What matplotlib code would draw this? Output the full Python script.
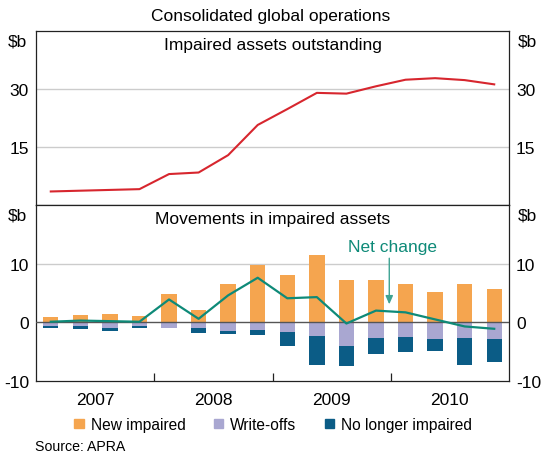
import numpy as np
import matplotlib
matplotlib.use("Agg")
import matplotlib.pyplot as plt
from matplotlib.patches import Patch

plt.rcParams["font.family"] = ["Liberation Sans", "DejaVu Sans"]
plt.rcParams["axes.unicode_minus"] = False
FS = 12.5

# quarterly, 2007 Q1 .. 2010 Q4
years = ["2007", "2008", "2009", "2010"]
outstanding = [3.5, 3.7, 3.9, 4.1, 8.0, 8.4, 12.9, 20.7, 24.8, 29.0, 28.8, 30.7, 32.4, 32.8, 32.3, 31.2]
new_impaired = [0.9, 1.3, 1.5, 1.1, 4.9, 2.1, 6.5, 9.8, 8.0, 11.5, 7.2, 7.3, 6.6, 5.1, 6.5, 5.6]
write_offs = [-0.7, -0.7, -1.0, -0.7, -0.9, -1.0, -1.5, -1.3, -1.7, -2.3, -4.1, -2.7, -2.5, -2.9, -2.7, -2.9]
no_longer = [-0.2, -0.4, -0.5, -0.2, 0.0, -0.8, -0.5, -0.8, -2.4, -5.0, -3.4, -2.7, -2.6, -2.0, -4.6, -3.9]
net_change = [0.1, 0.3, 0.2, 0.1, 3.9, 0.6, 4.6, 7.6, 4.1, 4.3, -0.2, 2.0, 1.7, 0.5, -0.7, -1.1]

C_NEW, C_WO, C_NL = "#F5A54F", "#A9A7D1", "#0B5C86"
C_RED, C_NET = "#D7262E", "#0E8A78"
GRID = "#CCCCCC"

x = np.arange(len(outstanding)) + 0.5

fig = plt.figure(figsize=(5.42, 4.56), dpi=100)
L, R = 36 / 542, 509 / 542
ax1 = fig.add_axes([L, 1 - 206 / 456, R - L, 174 / 456])
ax2 = fig.add_axes([L, 1 - 382 / 456, R - L, 176 / 456])

for ax in (ax1, ax2):
    ax.set_xlim(0, 16)
    for s in ax.spines.values():
        s.set_color("#222222"); s.set_linewidth(0.9)
    ax.tick_params(axis="y", length=0, labelsize=FS, pad=5, labelleft=True, labelright=True)
    ax.set_axisbelow(True)

# top panel
ax1.set_ylim(0, 45)
ax1.set_yticks([15, 30])
ax1.yaxis.grid(True, color=GRID, lw=1)
ax1.set_xticks([])
ax1.plot(x, outstanding, color=C_RED, lw=1.5)
ax1.text(0.5, 0.965, "Impaired assets outstanding", transform=ax1.transAxes,
         ha="center", va="top", fontsize=FS)

# bottom panel
ax2.set_ylim(-10, 20)
ax2.set_yticks([-10, 0, 10])
ax2.axhline(10, color=GRID, lw=1, zorder=0)
w = 0.52
ax2.bar(x, new_impaired, w, color=C_NEW, zorder=2)
ax2.bar(x, write_offs, w, color=C_WO, zorder=2)
ax2.bar(x, no_longer, w, bottom=write_offs, color=C_NL, zorder=2)
ax2.axhline(0, color="#555555", lw=1, zorder=3)
ax2.plot(x, net_change, color=C_NET, lw=1.6, zorder=4)
ax2.text(0.5, 0.965, "Movements in impaired assets", transform=ax2.transAxes,
         ha="center", va="top", fontsize=FS)
ax2.text(12.05, 13.0, "Net change", color=C_NET, ha="center", va="center", fontsize=FS)
ax2.annotate("", xy=(11.95, 2.6), xytext=(11.95, 11.4),
             arrowprops=dict(arrowstyle="-|>,head_length=0.5,head_width=0.22",
                             color="#3FA393", lw=1))

ax2.set_xticks([4, 8, 12])
ax2.set_xticklabels([])
ax2.tick_params(axis="x", which="major", direction="in", length=6, color="#222222", width=0.9)
ax2.set_xticks([2, 6, 10, 14], minor=True)
ax2.set_xticklabels(years, minor=True, fontsize=FS)
ax2.tick_params(axis="x", which="minor", length=0, pad=8)

for ax in (ax1, ax2):
    for xx, ha in ((-0.018, "right"), (1.018, "left")):
        ax.text(xx, 0.985, "$b", transform=ax.transAxes, ha=ha, va="top", fontsize=FS)

fig.text(0.5, 1 - 16 / 456, "Consolidated global operations", ha="center", va="center", fontsize=FS)

handles = [Patch(color=C_NEW, label="New impaired"), Patch(color=C_WO, label="Write-offs"),
           Patch(color=C_NL, label="No longer impaired")]
fig.legend(handles=handles, loc="center", bbox_to_anchor=(0.504, 1 - 425.5 / 456), ncol=3,
           frameon=False, fontsize=11.2, handlelength=0.58, handleheight=0.58,
           handletextpad=0.45, columnspacing=1.85)
fig.text(35 / 542, 1 - 447 / 456, "Source: APRA", ha="left", va="center", fontsize=10.2)

fig.savefig("out.png", dpi=100)
